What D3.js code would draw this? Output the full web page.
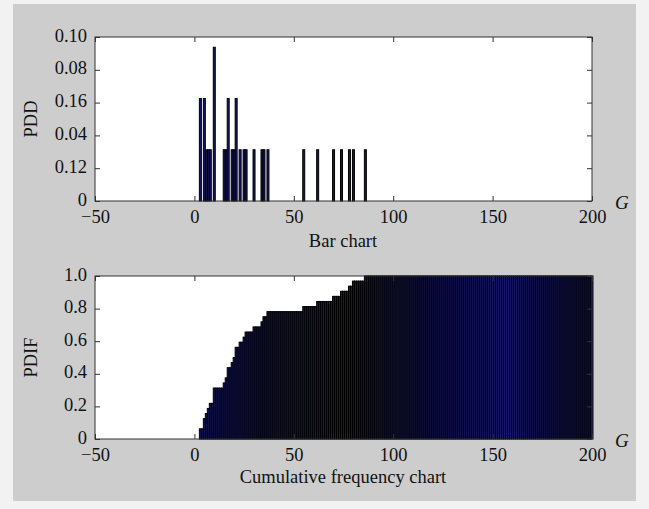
<!DOCTYPE html>
<html>
<head>
<meta charset="utf-8">
<script src="https://cdn.jsdelivr.net/npm/d3@7"></script>
<style>
  body { margin: 0; background: #f2f2f2; }
  svg text { font-family: "Liberation Serif", "Times New Roman", serif; fill: #111; }
</style>
</head>
<body>
<svg id="chart" width="649" height="509"></svg>
<script>
// data (32 samples, counts per integer G)
const gValues = [3, 5, 6, 7, 8, 10, 15, 16, 17, 19, 20, 21, 23, 25, 26, 30, 34, 35, 37, 55, 62, 70, 74, 78, 80, 86];
const gCounts = [2, 2, 1, 1, 1, 3, 1, 1, 2, 1, 1, 2, 1, 1, 1, 1, 1, 1, 1, 1, 1, 1, 1, 1, 1, 1];
const xTicks = [-50, 0, 50, 100, 150, 200];
const topYTicks = [0, 0.02, 0.04, 0.06, 0.08, 0.10];
const topYLabels = ["0", "0.12", "0.04", "0.16", "0.08", "0.10"];
const botYTicks = [0, 0.2, 0.4, 0.6, 0.8, 1.0];
const botYLabels = ["0", "0.2", "0.4", "0.6", "0.8", "1.0"];

const BAR_FILL = "#17176a";
const FONT = "Liberation Serif";
const total = d3.sum(gCounts);
const pdd = gValues.map((g, i) => ({ g: g, p: gCounts[i] / total }));

// empirical cumulative frequency on integer grid
const grid = d3.range(0, 201);
const cdf = grid.map(g => ({
  g: g,
  p: d3.sum(gValues.map((v, i) => v <= g ? gCounts[i] : 0)) / total
})).filter(d => d.p > 0);

const svg = d3.select("#chart");
svg.append("rect").attr("x", 13).attr("y", 4).attr("width", 623).attr("height", 497).attr("fill", "#cdcdcd");

function panel(top, bottom, yTicks, yLabels, yMax, data, yTitle, xTitle, xTitleY) {
  const x = d3.scaleLinear().domain([-50, 200]).range([95, 592]);
  const y = d3.scaleLinear().domain([0, yMax]).range([bottom, top]);
  const g = svg.append("g");

  g.append("rect")
    .attr("x", 95).attr("y", top)
    .attr("width", 497).attr("height", bottom - top)
    .attr("fill", "#fff");

  const w = x(1) - x(0);
  g.append("g")
    .selectAll("rect")
    .data(data)
    .enter()
    .append("rect")
    .attr("x", d => x(d.g) - w / 2)
    .attr("y", d => y(d.p))
    .attr("width", w)
    .attr("height", d => y(0) - y(d.p))
    .attr("fill", BAR_FILL)
    .attr("stroke", "#000")
    .attr("stroke-width", 1);

  // inward ticks on all sides, MATLAB style
  g.append("g").attr("transform", `translate(0,${bottom})`)
    .call(d3.axisBottom(x).tickValues(xTicks).tickSize(-5).tickPadding(9).tickFormat(d => d < 0 ? "\u221250" : d))
    .call(a => a.select(".domain").remove());
  g.append("g").attr("transform", `translate(0,${top})`)
    .call(d3.axisTop(x).tickValues(xTicks).tickSize(-5).tickFormat(""))
    .call(a => a.select(".domain").remove());
  g.append("g").attr("transform", "translate(95,0)")
    .call(d3.axisLeft(y).tickValues(yTicks).tickSize(-5).tickPadding(8).tickFormat((d, i) => yLabels[i]))
    .call(a => a.select(".domain").remove())
    .call(a => a.selectAll(".tick text").attr("dy", "0.22em"));
  g.append("g").attr("transform", "translate(592,0)")
    .call(d3.axisRight(y).tickValues(yTicks).tickSize(-5).tickFormat(""))
    .call(a => a.select(".domain").remove());

  g.selectAll(".tick line").attr("stroke", "#333");
  g.selectAll(".tick text").attr("font-size", 18.5).attr("font-family", FONT);

  g.append("rect")
    .attr("x", 95).attr("y", top)
    .attr("width", 497).attr("height", bottom - top)
    .attr("fill", "none").attr("stroke", "#333").attr("stroke-width", 1);

  g.append("text")
    .attr("transform", `translate(37,${(top + bottom) / 2}) rotate(-90)`)
    .attr("text-anchor", "middle")
    .attr("font-family", FONT)
    .attr("font-size", 18.5)
    .text(yTitle);

  g.append("text")
    .attr("x", 343).attr("y", xTitleY)
    .attr("text-anchor", "middle")
    .attr("font-family", FONT)
    .attr("font-size", 18.5)
    .text(xTitle);

  g.append("text")
    .attr("x", 615).attr("y", bottom + 8)
    .attr("font-family", FONT)
    .attr("font-size", 19)
    .attr("font-style", "italic")
    .text("G");
}

panel(37, 201, topYTicks, topYLabels, 0.10, pdd, "PDD", "Bar chart", 247);
panel(276, 439, botYTicks, botYLabels, 1.0, cdf, "PDIF", "Cumulative frequency chart", 483);
</script>
</body>
</html>
